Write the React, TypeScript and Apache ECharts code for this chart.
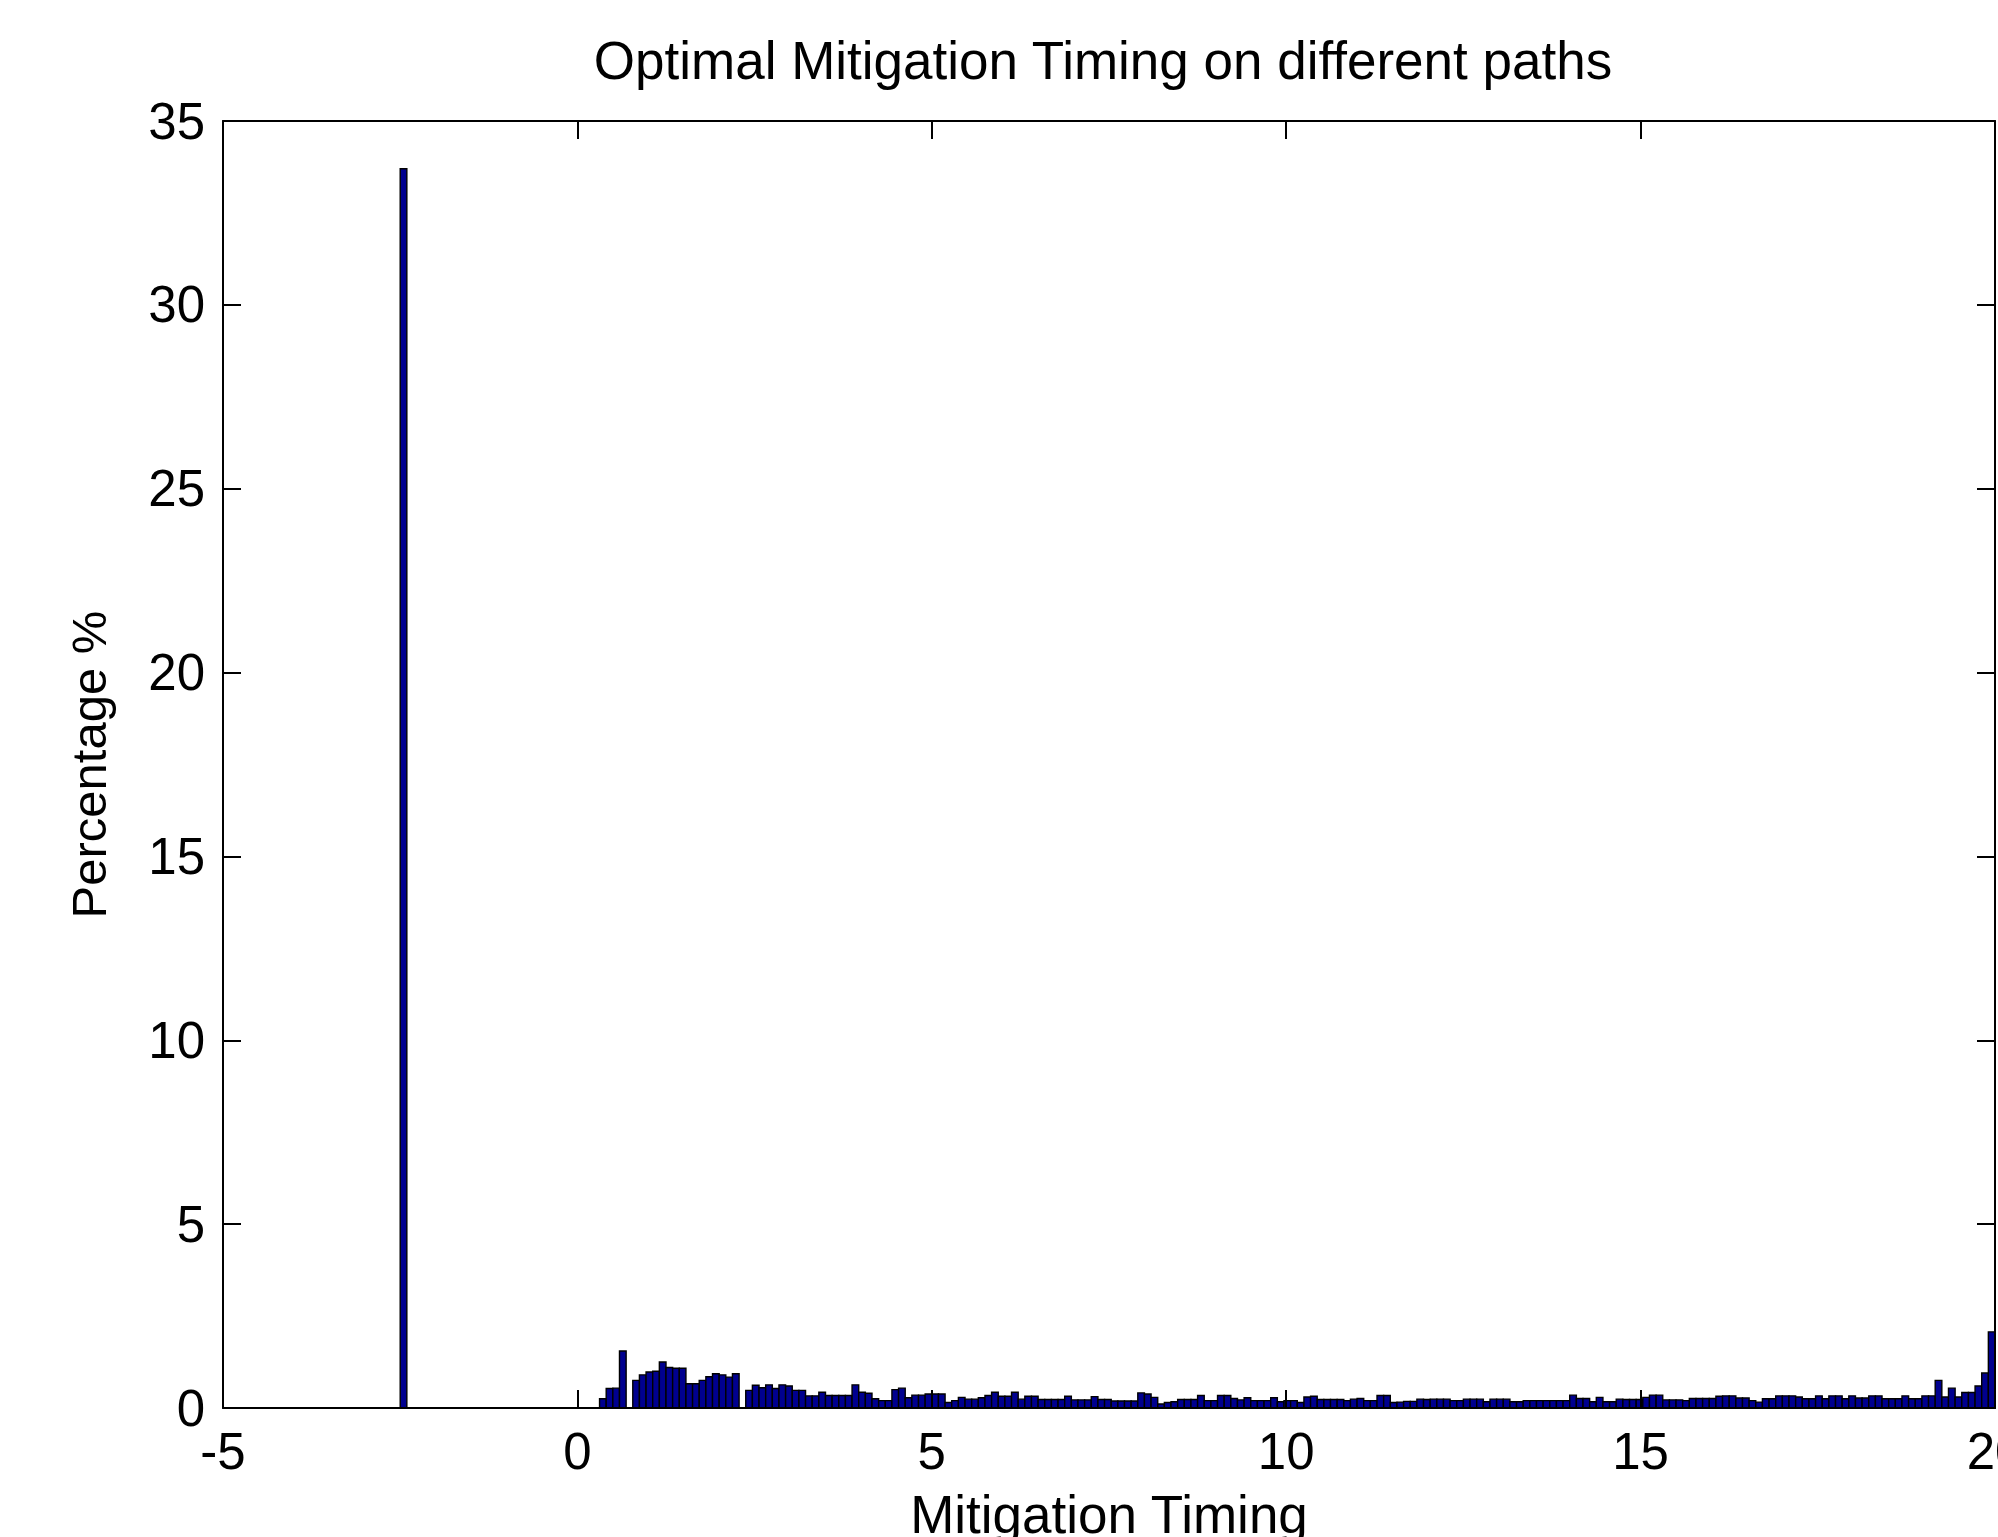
import React, { useEffect, useRef } from "react";
import * as echarts from "echarts";

// Histogram of optimal mitigation timing (percent of paths per bin)
const titleText = "Optimal Mitigation Timing on different paths";
const xAxisName = "Mitigation Timing";
const yAxisName = "Percentage %";

const xMin = -5;
const xMax = 20;
const xStep = 5;
const yMin = 0;
const yMax = 35;
const yStep = 5;

// bins: equal width, starting at binStart
const binStart = -2.5;
const binWidth = 0.09375;
const binHeights = [
  33.7, 0, 0, 0, 0, 0, 0, 0, 0, 0,
  0, 0, 0, 0, 0, 0, 0, 0, 0, 0,
  0, 0, 0, 0, 0, 0, 0, 0, 0, 0,
  0.25, 0.53, 0.54, 1.55, 0, 0.75, 0.9, 0.98, 1.0, 1.25,
  1.1, 1.08, 1.08, 0.66, 0.66, 0.75, 0.85, 0.93, 0.9, 0.84,
  0.93, 0, 0.48, 0.62, 0.55, 0.63, 0.53, 0.63, 0.6, 0.48,
  0.48, 0.33, 0.33, 0.43, 0.34, 0.34, 0.34, 0.34, 0.63, 0.43,
  0.4, 0.25, 0.2, 0.2, 0.5, 0.54, 0.28, 0.35, 0.35, 0.38,
  0.38, 0.38, 0.15, 0.2, 0.29, 0.24, 0.24, 0.28, 0.34, 0.43,
  0.32, 0.32, 0.43, 0.24, 0.32, 0.32, 0.23, 0.23, 0.23, 0.23,
  0.32, 0.22, 0.22, 0.22, 0.31, 0.23, 0.23, 0.19, 0.19, 0.19,
  0.19, 0.41, 0.38, 0.29, 0.11, 0.15, 0.17, 0.23, 0.23, 0.23,
  0.34, 0.2, 0.2, 0.34, 0.34, 0.26, 0.22, 0.28, 0.2, 0.2,
  0.2, 0.28, 0.17, 0.2, 0.2, 0.15, 0.3, 0.32, 0.23, 0.23,
  0.23, 0.23, 0.2, 0.24, 0.26, 0.2, 0.2, 0.34, 0.34, 0.15,
  0.16, 0.18, 0.18, 0.24, 0.23, 0.24, 0.24, 0.24, 0.2, 0.2,
  0.24, 0.24, 0.24, 0.17, 0.24, 0.24, 0.24, 0.17, 0.17, 0.2,
  0.2, 0.2, 0.2, 0.2, 0.2, 0.2, 0.35, 0.26, 0.26, 0.17,
  0.29, 0.17, 0.17, 0.24, 0.23, 0.23, 0.23, 0.29, 0.35, 0.35,
  0.22, 0.22, 0.22, 0.2, 0.26, 0.26, 0.26, 0.26, 0.32, 0.33,
  0.33, 0.27, 0.27, 0.2, 0.16, 0.25, 0.25, 0.33, 0.33, 0.33,
  0.3, 0.25, 0.25, 0.33, 0.25, 0.33, 0.33, 0.25, 0.33, 0.27,
  0.27, 0.33, 0.33, 0.25, 0.25, 0.25, 0.33, 0.25, 0.25, 0.33,
  0.33, 0.75, 0.3, 0.54, 0.3, 0.42, 0.42, 0.6, 0.95, 2.07,
];

const FONT = "'Liberation Sans', Arial, Helvetica, sans-serif";

export default function App() {
  const ref = useRef<HTMLDivElement>(null);

  useEffect(() => {
    if (!ref.current) return;
    const chart = echarts.init(ref.current, undefined, { renderer: "svg" });

    const histData = binHeights.map((h, k) => [
      binStart + k * binWidth,
      binStart + (k + 1) * binWidth,
      h,
    ]);

    const gridLeft = 223;
    const gridTop = 121;
    const gridRight = 3;
    const gridBottom = 129;

    const axisLineStyle = { color: "#000", width: 2 };

    const baseX = {
      type: "value" as const,
      min: xMin,
      max: xMax,
      interval: xStep,
      z: 5,
      splitLine: { show: false },
      axisLine: { show: true, onZero: false, lineStyle: axisLineStyle },
      axisTick: { show: true, inside: true, length: 18, lineStyle: axisLineStyle },
    };
    const baseY = {
      type: "value" as const,
      min: yMin,
      max: yMax,
      interval: yStep,
      z: 5,
      splitLine: { show: false },
      axisLine: { show: true, onZero: false, lineStyle: axisLineStyle },
      axisTick: { show: true, inside: true, length: 18, lineStyle: axisLineStyle },
    };

    chart.setOption({
      animation: false,
      backgroundColor: "#ffffff",
      textStyle: { fontFamily: FONT },
      grid: {
        left: gridLeft,
        top: gridTop,
        right: gridRight,
        bottom: gridBottom,
        containLabel: false,
        outerBoundsMode: "none",
      },
      graphic: [
        {
          type: "text",
          x: gridLeft + (1998 - gridLeft - gridRight) / 2 - 6,
          y: 34,
          style: {
            text: titleText,
            fill: "#000",
            font: `53px ${FONT}`,
            textAlign: "center",
            textVerticalAlign: "top",
          },
        },
      ],
      xAxis: [
        {
          ...baseX,
          position: "bottom",
          name: xAxisName,
          nameLocation: "middle",
          nameGap: 80,
          nameTextStyle: { fontSize: 53, color: "#000", fontFamily: FONT },
          axisLabel: { show: true, fontSize: 51, color: "#000", margin: 18, fontFamily: FONT },
        },
        {
          ...baseX,
          position: "top",
          axisLabel: { show: false },
        },
      ],
      yAxis: [
        {
          ...baseY,
          position: "left",
          name: yAxisName,
          nameLocation: "middle",
          nameGap: 110,
          nameRotate: 90,
          nameTextStyle: { fontSize: 49, color: "#000", fontFamily: FONT },
          axisLabel: { show: true, fontSize: 51, color: "#000", margin: 18, fontFamily: FONT },
        },
        {
          ...baseY,
          position: "right",
          axisLabel: { show: false },
        },
      ],
      series: [
        {
          type: "custom",
          xAxisIndex: 0,
          yAxisIndex: 0,
          z: 2,
          encode: { x: [0, 1], y: 2 },
          data: histData,
          renderItem: (params: any, api: any) => {
            const x0 = api.value(0);
            const x1 = api.value(1);
            const h = api.value(2);
            if (!(h > 0)) return null;
            const p0 = api.coord([x0, h]);
            const p1 = api.coord([x1, 0]);
            return {
              type: "rect",
              shape: {
                x: p0[0],
                y: p0[1],
                width: p1[0] - p0[0],
                height: p1[1] - p0[1],
              },
              style: { fill: "#00008F", stroke: "#000000", lineWidth: 1.4 },
            };
          },
        },
      ],
    });

    return () => {
      chart.dispose();
    };
  }, []);

  return (
    <div
      ref={ref}
      style={{ position: "fixed", left: 0, top: 0, width: "1998px", height: "1537px", background: "#fff" }}
    />
  );
}
